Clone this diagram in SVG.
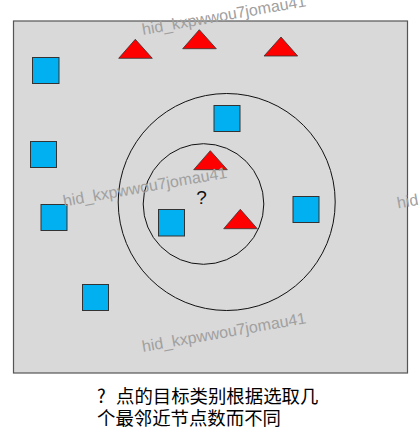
<svg xmlns="http://www.w3.org/2000/svg" width="419" height="446" viewBox="0 0 419 446">
<style>
.sq{fill:#00B0F0;stroke:#333;stroke-width:1}
.tri{fill:#FF0000;stroke:#333;stroke-width:0.8}
.ring{fill:none;stroke:#111;stroke-width:1}
.wm{font-family:"Liberation Sans",sans-serif;font-size:16px;fill:#a0a0a0}
.cap{font-family:"Noto Sans CJK SC",sans-serif;font-size:18.4px;fill:#000}
</style>
<rect width="419" height="446" fill="#fff"/>
<g id="field"><rect x="13.5" y="21" width="394" height="352" fill="#d9d9d9" stroke="#555" stroke-width="1.2"/></g>
<g id="connectors">
<circle class="ring" cx="226.7" cy="202" r="108.5"/>
<circle class="ring" cx="203.5" cy="204" r="60.3"/>
</g>
<g id="sq1"><rect class="sq" x="32.5" y="57.5" width="26.5" height="26"/></g>
<g id="sq2"><rect class="sq" x="30.5" y="141.5" width="26" height="26"/></g>
<g id="sq3"><rect class="sq" x="41" y="204.5" width="26" height="26"/></g>
<g id="sq4"><rect class="sq" x="158.5" y="209.5" width="26" height="26.5"/></g>
<g id="sq5"><rect class="sq" x="293" y="196.5" width="26" height="26"/></g>
<g id="sq6"><rect class="sq" x="214" y="105.5" width="26" height="26"/></g>
<g id="sq7"><rect class="sq" x="82.5" y="284.5" width="26" height="26"/></g>
<g id="tri1"><polygon class="tri" points="135.3,39.3 152.3,58.3 118.7,58.3"/></g>
<g id="tri2"><polygon class="tri" points="199.3,29.7 216.3,48.7 182.7,48.7"/></g>
<g id="tri3"><polygon class="tri" points="281,37 297.7,56 264,56"/></g>
<g id="tri4"><polygon class="tri" points="210.3,150.7 227.3,169.7 193.7,169.7"/></g>
<g id="tri5"><polygon class="tri" points="240.3,209.3 257.3,228.7 223.7,228.7"/></g>
<g id="query"><text x="201.5" y="204" text-anchor="middle" font-family="Liberation Sans, sans-serif" font-size="19" fill="#111">?</text></g>
<g id="watermarks">
<text class="wm" x="143" y="35" transform="rotate(-10 143 35)">hid_kxpwwou7jomau41</text>
<text class="wm" x="64" y="206.5" transform="rotate(-10 64 206.5)">hid_kxpwwou7jomau41</text>
<text class="wm" x="398" y="208.5" transform="rotate(-10 398 208.5)">hid_kxpwwou7jomau41</text>
<text class="wm" x="143" y="352" transform="rotate(-10 143 352)">hid_kxpwwou7jomau41</text>
</g>
<g id="caption">
<text class="cap" x="97" y="403">?<tspan x="116">点的目标类别根据选取几</tspan></text>
<text class="cap" x="97" y="425">个最邻近节点数而不同</text>
</g>
</svg>
